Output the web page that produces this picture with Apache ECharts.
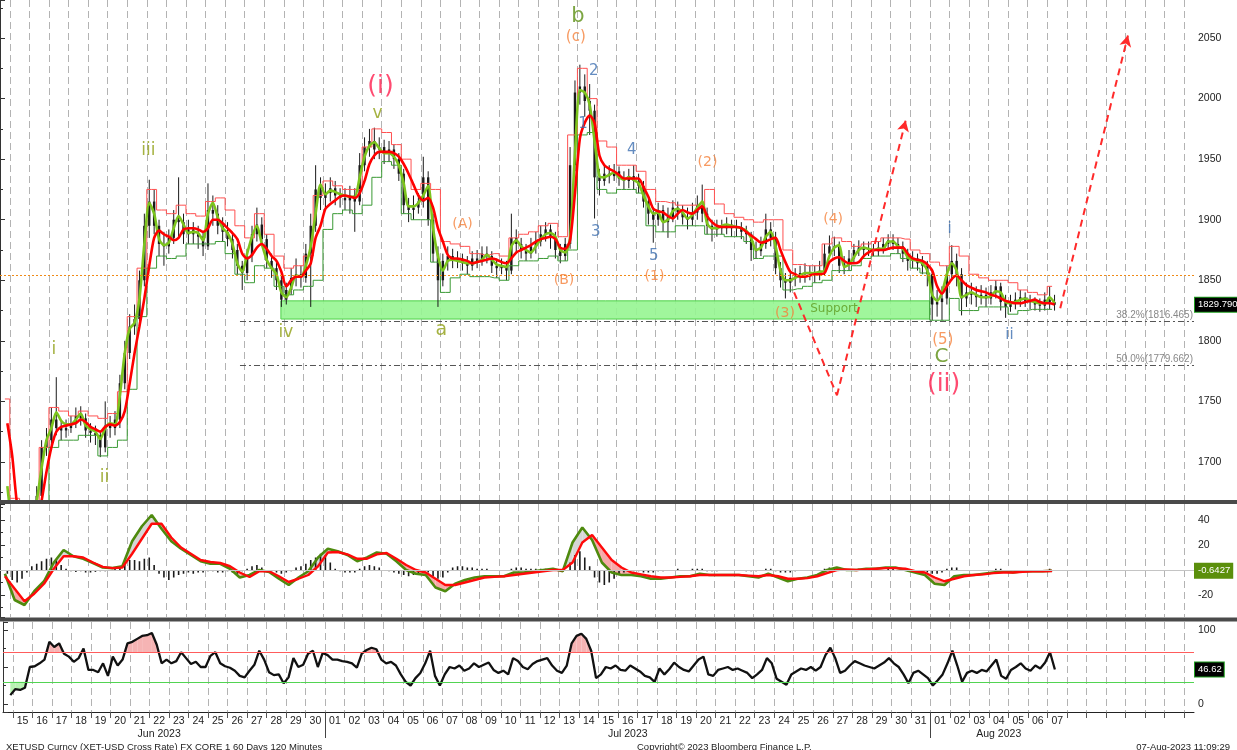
<!DOCTYPE html>
<html><head><meta charset="utf-8">
<script src="https://cdn.jsdelivr.net/npm/echarts@6/dist/echarts.min.js"></script>
<style>html,body{margin:0;padding:0;background:#fff}#c{width:1237px;height:750px}</style>
</head><body><div id="c"></div>
<script>
// ---------- time helpers (axis unit = hours since 14 Jun 2023 12:00 UTC) ----------
const T0 = Date.UTC(2023,5,14,12);
function hrs(s){ const [md,hm]=s.split(' '); const [m,d]=md.split('-').map(Number);
  const [h,mi]=(hm||'00:00').split(':').map(Number); return (Date.UTC(2023,m-1,d,h,mi)-T0)/3600000; }

// ---------- DATA ----------
// 6-hour candles [open, close, low, high] starting 15 Jun 00:00
const candleStart = '06-15 00:00';
const candles = [
[1650,1640,1630,1655],[1640,1635,1626,1648],[1635,1650,1630,1658],[1650,1660,1645,1668],
[1660,1655,1648,1668],[1655,1672,1650,1680],[1672,1712,1668,1718],[1712,1718,1705,1728],
[1718,1735,1714,1745],[1735,1728,1722,1770],[1728,1726,1718,1734],[1726,1728,1720,1735],
[1728,1732,1724,1738],[1732,1738,1728,1745],[1738,1736,1730,1746],[1736,1726,1720,1740],
[1726,1724,1716,1732],[1724,1722,1714,1730],[1722,1712,1704,1726],[1712,1730,1708,1750],
[1730,1728,1720,1738],[1728,1735,1722,1742],[1735,1765,1728,1772],[1765,1790,1760,1800],
[1790,1812,1785,1822],[1812,1818,1805,1830],[1818,1850,1812,1858],[1850,1895,1845,1905],
[1895,1915,1885,1933],[1915,1895,1888,1925],[1895,1880,1870,1900],[1880,1878,1862,1890],
[1878,1885,1872,1892],[1885,1900,1880,1908],[1900,1898,1885,1935],[1898,1888,1880,1905],
[1888,1892,1880,1900],[1892,1888,1880,1898],[1888,1886,1876,1895],[1886,1878,1870,1890],
[1878,1908,1875,1930],[1908,1905,1895,1920],[1905,1895,1888,1912],[1895,1890,1882,1902],
[1890,1884,1878,1898],[1884,1875,1868,1890],[1875,1862,1855,1880],[1862,1856,1842,1866],
[1856,1870,1850,1876],[1870,1888,1865,1895],[1888,1896,1882,1910],[1896,1884,1878,1902],
[1884,1866,1860,1888],[1866,1860,1852,1872],[1860,1850,1842,1866],[1850,1834,1828,1855],
[1834,1842,1830,1848],[1842,1852,1838,1860],[1852,1855,1845,1868],[1855,1852,1844,1862],
[1852,1872,1848,1880],[1872,1895,1828,1905],[1895,1925,1890,1945],[1925,1918,1908,1935],
[1918,1922,1910,1930],[1922,1926,1915,1935],[1926,1920,1912,1932],[1920,1918,1910,1926],
[1918,1916,1908,1926],[1916,1920,1905,1928],[1920,1915,1890,1926],[1915,1945,1912,1955],
[1945,1960,1940,1968],[1960,1965,1952,1975],[1965,1958,1950,1976],[1958,1960,1950,1968],
[1960,1955,1946,1966],[1955,1958,1948,1965],[1958,1950,1942,1962],[1950,1938,1932,1955],
[1938,1912,1905,1942],[1912,1908,1898,1918],[1908,1910,1900,1920],[1910,1915,1905,1922],
[1915,1935,1910,1952],[1935,1900,1895,1940],[1900,1872,1865,1905],[1872,1850,1828,1878],
[1850,1866,1845,1872],[1866,1870,1858,1878],[1870,1866,1860,1876],[1866,1868,1860,1874],
[1868,1864,1858,1872],[1864,1862,1855,1870],[1862,1868,1858,1874],[1868,1866,1860,1875],
[1866,1872,1862,1878],[1872,1870,1864,1878],[1870,1862,1856,1874],[1862,1860,1852,1868],
[1860,1862,1855,1868],[1862,1858,1850,1866],[1858,1885,1855,1905],[1885,1880,1872,1892],
[1880,1875,1868,1885],[1875,1872,1866,1880],[1872,1878,1868,1885],[1878,1882,1872,1890],
[1882,1888,1878,1895],[1888,1892,1882,1898],[1892,1885,1876,1896],[1885,1875,1868,1890],
[1875,1870,1864,1880],[1870,1880,1866,1885],[1880,1945,1876,1960],[1945,2005,1940,2015],
[2005,2010,1995,2028],[2010,1998,1985,2020],[1998,1990,1970,2012],[1990,1935,1901,1995],
[1935,1932,1920,1942],[1932,1938,1928,1945],[1938,1936,1930,1945],[1936,1940,1932,1946],
[1940,1934,1928,1944],[1934,1932,1925,1940],[1932,1936,1926,1942],[1936,1932,1925,1945],
[1932,1928,1922,1938],[1928,1915,1910,1932],[1915,1905,1896,1920],[1905,1900,1881,1910],
[1900,1908,1895,1914],[1908,1898,1890,1912],[1898,1902,1885,1910],[1902,1910,1898,1916],
[1910,1906,1900,1915],[1906,1902,1896,1912],[1902,1900,1892,1910],[1900,1906,1895,1914],
[1906,1912,1900,1920],[1912,1905,1898,1929],[1905,1895,1888,1910],[1895,1892,1882,1900],
[1892,1895,1886,1900],[1895,1893,1888,1900],[1893,1896,1888,1902],[1896,1893,1886,1900],
[1893,1894,1886,1900],[1894,1890,1884,1898],[1890,1888,1880,1895],[1888,1875,1866,1890],
[1875,1874,1868,1882],[1874,1880,1870,1886],[1880,1892,1876,1905],[1892,1885,1878,1898],
[1885,1860,1855,1890],[1860,1850,1844,1865],[1850,1848,1835,1856],[1848,1852,1840,1858],
[1852,1853,1845,1860],[1853,1856,1848,1862],[1856,1855,1848,1864],[1855,1856,1850,1862],
[1856,1855,1848,1862],[1855,1858,1850,1866],[1858,1872,1854,1880],[1872,1878,1868,1887],
[1878,1878,1870,1886],[1878,1862,1856,1882],[1862,1864,1855,1870],[1864,1868,1858,1875],
[1868,1875,1864,1880],[1875,1877,1870,1883],[1877,1875,1868,1882],[1875,1876,1870,1882],
[1876,1874,1870,1880],[1874,1877,1870,1882],[1877,1880,1872,1885],[1880,1883,1876,1888],
[1883,1880,1875,1888],[1880,1878,1872,1885],[1878,1872,1865,1882],[1872,1866,1858,1876],
[1866,1868,1860,1874],[1868,1864,1858,1872],[1864,1862,1855,1870],[1862,1855,1845,1866],
[1855,1830,1817,1858],[1830,1832,1820,1842],[1832,1835,1817,1845],[1835,1855,1830,1862],
[1855,1866,1850,1879],[1866,1855,1845,1872],[1855,1835,1821,1860],[1835,1840,1828,1848],
[1840,1838,1830,1848],[1838,1836,1828,1845],[1836,1838,1830,1846],[1838,1835,1828,1844],
[1835,1840,1830,1846],[1840,1845,1835,1850],[1845,1832,1825,1848],[1832,1828,1819,1838],
[1828,1832,1824,1838],[1832,1834,1826,1840],[1834,1836,1828,1842],[1836,1833,1828,1840],
[1833,1832,1826,1838],[1832,1830,1825,1836],[1830,1829,1824,1835],[1829,1834,1825,1840],
[1834,1832,1826,1845],[1832,1829.79,1825,1838]
];
// 6-hour line samples starting 14 Jun 18:00
const lineStart = '06-14 18:00';
const redMA = [1732,1705,1665,1650,1645,1645,1650,1668,1692,1712,1725,1729,1730,1731,1732,1735,1733,1729,1727,1725,
1729,1731,1730,1733,1742,1765,1790,1812,1835,1862,1885,1891,1888,1886,1883,1885,1892,1893,1893,1892,
1890,1893,1900,1900,1897,1893,1889,1884,1872,1868,1871,1877,1880,1876,1870,1866,1857,1845,1850,1853,
1853,1858,1864,1885,1895,1909,1913,1916,1919,1920,1919,1918,1922,1932,1946,1953,1956,1956,1956,1955,
1952,1946,1938,1929,1920,1916,1918,1910,1893,1882,1871,1868,1868,1867,1866,1864,1865,1866,1867,1868,
1867,1865,1864,1868,1873,1875,1877,1879,1882,1884,1885,1886,1884,1877,1876,1883,1922,1967,1980,1986,
1980,1953,1945,1942,1940,1937,1934,1934,1934,1934,1927,1919,1909,1907,1906,1903,1901,1905,1908,1906,
1905,1908,1911,1903,1898,1895,1894,1894,1894,1894,1893,1890,1887,1884,1881,1882,1884,1885,1875,1865,
1857,1855,1853,1853,1854,1855,1855,1856,1865,1868,1869,1866,1864,1864,1865,1870,1873,1875,1875,1875,
1876,1877,1877,1877,1872,1868,1867,1866,1863,1858,1845,1839,1845,1851,1854,1850,1846,1844,1842,1841,
1840,1838,1837,1835,1833,1832,1831,1831,1832,1833,1834,1832,1831,1831,1830];
const greenMA = [1680,1648,1638,1640,1650,1655,1668,1695,1718,1728,1741,1734,1731,1731,1735,1740,1730,1727,1725,1719,
1728,1732,1731,1755,1790,1810,1815,1835,1880,1914,1905,1884,1879,1881,1893,1903,1896,1889,1890,1889,
1883,1905,1914,1902,1893,1889,1880,1864,1857,1872,1886,1895,1880,1867,1860,1855,1840,1836,1844,1854,
1853,1862,1878,1905,1929,1921,1924,1923,1921,1920,1919,1919,1935,1952,1961,1964,1959,1955,1955,1952,
1945,1930,1911,1911,1914,1920,1928,1893,1870,1858,1866,1867,1866,1865,1864,1864,1865,1867,1871,1867,
1863,1862,1861,1878,1883,1878,1875,1873,1878,1884,1888,1889,1886,1875,1873,1885,1955,2007,2005,1995,
1965,1936,1935,1937,1939,1935,1933,1935,1933,1930,1920,1911,1905,1906,1898,1900,1907,1909,1906,1901,
1904,1910,1915,1897,1893,1893,1895,1896,1895,1894,1893,1891,1885,1875,1877,1886,1890,1878,1858,1850,
1850,1852,1854,1856,1856,1856,1857,1858,1870,1877,1879,1861,1863,1869,1875,1877,1876,1875,1876,1876,
1882,1882,1878,1876,1869,1867,1866,1864,1858,1838,1833,1840,1855,1864,1858,1836,1838,1840,1838,1836,
1836,1837,1841,1840,1832,1831,1832,1834,1835,1833,1832,1831,1831,1836,1831];
// 12-hour band samples starting 14 Jun 12:00
const bandStart = '06-14 12:00';
const upperBand = [1752,1670,1660,1665,1712,1745,1742,1738,1742,1738,1736,1740,1758,1820,1860,1925,1908,1905,1912,1905,
1903,1915,1918,1908,1895,1885,1905,1888,1870,1860,1862,1870,1920,1932,1928,1925,1925,1960,1975,1972,
1962,1950,1925,1930,1925,1882,1880,1878,1872,1871,1872,1870,1885,1888,1890,1895,1897,1886,1970,2025,
2000,1965,1960,1945,1945,1940,1925,1915,1914,1912,1912,1912,1925,1913,1905,1902,1900,1898,1900,1900,
1875,1863,1862,1862,1880,1885,1882,1878,1880,1882,1885,1885,1884,1875,1872,1865,1862,1878,1870,1855,
1852,1850,1850,1848,1842,1840,1838,1845];
const lowerBand = [1660,1640,1640,1640,1660,1712,1718,1718,1722,1722,1705,1712,1718,1760,1820,1860,1870,1868,1870,1880,
1880,1880,1882,1872,1855,1848,1862,1860,1845,1838,1842,1845,1850,1892,1905,1908,1905,1912,1935,1948,
1945,1905,1900,1900,1865,1840,1852,1855,1853,1853,1852,1850,1862,1866,1866,1868,1870,1866,1875,1970,
1972,1925,1922,1925,1925,1922,1895,1890,1890,1895,1895,1895,1888,1888,1886,1886,1882,1868,1870,1870,
1842,1843,1845,1848,1850,1858,1858,1862,1868,1870,1870,1872,1868,1860,1856,1817,1817,1835,1825,1825,
1828,1828,1828,1822,1825,1826,1826,1826];
// MACD (12-hour samples, same start as bands)
const macdLine = [-3,-24,-28,-17,-9,6,16,11,9,5.6, 2,1.5,3,23,35,44,33,23,17,12, 7,5,5,1,-6,-4,0,-1.6,-7,-12,
-6,-1,10,17,15,12,7,10,14,13, 7,0,-3,-4,-14,-17,-11,-8,-6,-5, -5,-5,-2,-2,-1,0,1,-1,22,34,
24,6,-2,-4,-4,-5,-7,-7,-6,-5, -5,-3,-4,-4,-4,-4,-5,-6,-3,-6, -9,-7,-6,-4,0,2,0,0,1,1,
2,2,0,-2,-4,-11,-12,-5,-4,-4, -3,-2,-1,-2,-1,-1,-1,-0.64];
const signalLine = [-5,-15,-25,-19,-11,1,11,11,10,6, 2.5,1.5,2,13,25,37,37,26,18,13, 8,6.4,5.6,3,-2,-5.6,-1,-1,-5,-9.6,
-7,-4,3,14,14.4,12.5,9,9,12.5,13.6, 9,4,0,-2,-7,-12,-12,-10,-8,-6, -5.5,-5,-4,-3,-2,-1,0,0,6,22,
28,18,8,2,-2,-3.5,-5,-6,-6,-5.5, -5,-4,-4,-4,-4,-4,-4.5,-5,-4,-5, -7,-7,-6.5,-5,-2.5,0,0.5,0,0.5,1,
1.5,1.5,1,-1,-2,-6,-9,-7,-5,-4, -3.5,-2.5,-2,-2,-1.5,-1,-1,-0.8];
// MACD histogram (6-hour samples, lineStart)
const macdHist = [-3, -8,-10,-7,-2, 3,5,7,9,10,8,4,1, -1,-1.5,-1,-2,-2,-1.5,-1,-1,0, 1,3,6,8,8,7,9,10,4,
-3,-6,-8,-6,-4, -3,-2,-3,-2,-2,-1,-1,-2,-2,-1,-2,-3, -1,1,3,4,2,0, -1,-2,-3,-2,-1, 2,3,5,8,10,13,12,6,
1,-1,-2,-2,-2, 1,3,4,3,2,0, -1,-2,-3, -4,-5,-4,-3,-2,-2,-5,-7,-6,-2, 2,3,3,2,2,1,1,1,0,0,
0,0,1,2,2,1,1,1,1,1,1,0,-1,0, 6,12,15,10,3,-6,-10,-12,-10,-7,-4,-2,-1,-1,
-1,-2,-2,-2,-1,-1,0,0,1,0,0,1, 1,1,-1,-1,-1,0,0,0,0,0,-1,-1, -1,0,1,1,-1,-2,-2,-2,-1,0,0,0,
0,0,1,2,2,1,0,0,0,1,1,1, 1,0,0,1,1,0,0,-1,-1,-1,-1,-2, -3,-3,-2,1,2,2,0,0,0,0,0,0,
0,1,1,0,0,0,0,0,0,0,0,0,1,0];
// RSI (6-hour samples, lineStart)
const rsi = [12, 20,19,22,50,51,55,60,84,77,82, 68,64,57,62,75,46,46,43,55,38, 64,52,60,82,84,88,92,93,96,80,
55,60,55,58,70,62,54,57,50,50, 65,70,55,51,49,45,38,36,45,53, 72,60,43,39,40,28,36,62,50,53,
68,72,50,69,66,60,60,58,57,55, 49,68,73,76,74,60,55,57,52,40, 30,25,35,42,55,72,38,25,40,50,
48,52,45,48,55,50,53,56,46,42, 45,40,62,58,50,47,54,58,60,62, 52,45,42,52,82,92,95,88,72,35,
40,50,48,52,46,45,52,48,44,38, 36,30,48,40,47,56,50,46,44,52, 60,64,40,38,46,48,50,46,48,45,
42,35,40,46,62,55,34,30,26,40, 44,48,46,50,45,50,66,76,62,42, 45,52,58,55,52,50,48,52,56,62,
55,50,40,28,42,45,40,35,25,32, 40,55,72,52,30,42,45,42,46,44, 52,60,38,34,46,50,55,48,45,52,
48,56,70,46.62];
// Levels
const lastPrice = 1829.79, lastMacd = -0.6427, lastRsi = 46.62;
const orangeLevel = 1854.5;
const fibLevels = [[1816.465,'38.2%(1816.465)'],[1779.662,'50.0%(1779.662)']];
const fibStart = '06-26 18:15';
const supportZone = {from:'06-28 20:25', to:'08-01 00:00', low:1818, high:1833};
// Elliott wave annotations [time, price, text, colour, fontSize]
const OLV='#8f9f12', GRN='#5b8e12', ORG='#f5813a', BLU='#3d6fb0', RED='#ff1e4e';
const notes = [
 ['07-03 22:30',2010,'(i)',RED,25], ['07-03 19:00',1988,'v',OLV,17], ['06-22 02:00',1957,'iii',OLV,17],
 ['06-17 06:00',1793,'i',OLV,17], ['06-19 20:00',1687,'ii',OLV,17], ['06-29 02:30',1806.5,'iv',OLV,17],
 ['07-07 01:00',1809,'a',OLV,19], ['07-08 03:00',1896.5,'(A)',ORG,14], ['07-13 07:30',1849.6,'(B)',ORG,14],
 ['07-14 00:30',2068,'b',GRN,21], ['07-13 22:00',2051,'(c)',ORG,15], ['07-14 20:00',2023,'2',BLU,15],
 ['07-14 06:45',1979,'1',BLU,15], ['07-16 18:30',1957.5,'4',BLU,15], ['07-14 22:30',1890,'3',BLU,15],
 ['07-17 21:30',1870,'5',BLU,15], ['07-17 22:30',1853.5,'(1)',ORG,14], ['07-20 15:30',1947.5,'(2)',ORG,14],
 ['07-27 01:30',1900,'(4)',ORG,14], ['07-24 14:30',1823,'(3)',ORG,14], ['07-27 02:30',1826,'Support','#5e9a1e',12],
 ['08-02 00:15',1892,'i',BLU,15], ['08-01 16:00',1800.7,'(5)',ORG,15], ['08-01 14:30',1786.7,'C',GRN,20],
 ['08-01 17:00',1763.6,'(ii)',RED,25], ['08-05 01:40',1805,'ii',BLU,15]
];
// Projection paths [time, price]
const projections = [
 [['07-25 01:40',1840],['07-27 06:15',1755],['07-30 18:30',1982]],
 [['08-07 16:00',1827],['08-11 03:00',2052]]
];
const monthLabels = {'06-22':'Jun 2023','07-16':'Jul 2023','08-04':'Aug 2023'};
const monthStarts = ['07-01 00:00','08-01 00:00'];
const lastLabelDay = '08-07 12:00';

// ---------- build ----------
const sixh = arr => arr.map((v,k)=>[hrs(lineStart)+k*6+3, v]);
const twelveh = arr => arr.map((v,k)=>[hrs(bandStart)+k*12+6, v]);
const candleData = candles.map((c,i)=>[hrs(candleStart)+i*6+3, c[0], c[1], c[2], c[3]]);
const macdPts = twelveh(macdLine), sigPts = twelveh(signalLine);
const rsiPts = sixh(rsi);
const macdPairs = []; for(let k=0;k<macdPts.length-1;k++) macdPairs.push([macdPts[k][0],macdLine[k],signalLine[k],macdPts[k+1][0],macdLine[k+1],signalLine[k+1]]);
const rsiPairs = []; for(let k=0;k<rsiPts.length-1;k++) rsiPairs.push([rsiPts[k][0],rsi[k],rsiPts[k+1][0],rsi[k+1]]);

const FONT = 'Liberation Sans';
const XMIN=0, XMAX=1464;
function dayFmt(v){
  const d = new Date(T0 + v*3600000);
  if (v < 24 || d.getTime() > T0 + hrs(lastLabelDay)*3600000) return '';
  const mm = String(d.getUTCMonth()+1).padStart(2,'0'), dd = String(d.getUTCDate()).padStart(2,'0');
  const m = monthLabels[mm+'-'+dd];
  return m ? '{d|'+dd+'}\n{m|'+m+'}' : '{d|'+dd+'}';
}
function xAx(g){
  return {type:'value', gridIndex:g, min:XMIN, max:XMAX, interval:24,
    axisLine:{show:g===2, onZero:false, lineStyle:{color:'#222',width:1}},
    axisTick:{show:false},
    minorTick:{show:g===2, splitNumber:2, length:6, lineStyle:{color:'#555'}},
    splitLine:{show:false},
    minorSplitLine:{show:true, lineStyle:{color:'#b3b3b3', type:[7,4], width:1}},
    axisLabel:{show:g===2, margin:3, formatter:dayFmt,
      rich:{d:{fontFamily:FONT,fontSize:10.5,color:'#222',lineHeight:13}, m:{fontFamily:FONT,fontSize:10.5,color:'#222',lineHeight:13}}}
  };
}
function yAx(g, min, max, step, fmt){
  return {type:'value', gridIndex:g, position:'right', min, max, minInterval:step, maxInterval:step,
    splitLine:{show:false},
    axisLine:{show:true, lineStyle:{color:'#333',width:1}},
    axisTick:{show:true, length:5, lineStyle:{color:'#333'}},
    minorTick:{show:true, splitNumber:2, length:3, lineStyle:{color:'#333'}},
    axisLabel:{fontFamily:FONT, fontSize:10.5, color:'#222', margin:4, showMinLabel:false, showMaxLabel:false, formatter:fmt}
  };
}
function tag(v, text, bg){
  return {symbol:'none', silent:true, animation:false, lineStyle:{color:'rgba(0,0,0,0)', width:0.01},
    data:[{yAxis:v}],
    label:{show:true, position:'end', distance:1, formatter:text, backgroundColor:bg, color:'#fff', opacity:1,
      fontFamily:FONT, fontSize:9.5, padding:[2,2,2,3], borderColor: bg==='#000'?'#1f9d1f':bg, borderWidth:1}};
}
function clipPart(x1,v1,x2,v2,th,above){
  const f1 = above? v1>th : v1<th, f2 = above? v2>th : v2<th;
  if(!f1 && !f2) return null;
  if(f1 && f2) return [[x1,th],[x1,v1],[x2,v2],[x2,th]];
  const t=(th-v1)/(v2-v1), xm=x1+t*(x2-x1);
  return f1 ? [[x1,th],[x1,v1],[xm,th]] : [[xm,th],[x2,v2],[x2,th]];
}

const projLines = [];
projections.forEach(path=>{
  for(let k=0;k<path.length-1;k++){
    const last = k===path.length-2;
    projLines.push([{coord:[hrs(path[k][0]),path[k][1]], symbol:'none'},
                    {coord:[hrs(path[k+1][0]),path[k+1][1]], symbol:last?'arrow':'none', symbolSize:[9,11]}]);
  }
});

const option = {
  animation:false,
  backgroundColor:'#fff',
  title:[
    {text:'XETUSD Curncy (XET-USD Cross Rate) FX CORE 1 60 Days 120 Minutes', left:1, top:737, textStyle:{fontFamily:FONT,fontSize:9.5,fontWeight:'normal',color:'#222'}},
    {text:'Copyright\u00a9 2023 Bloomberg Finance L.P.', left:632, top:737, textStyle:{fontFamily:FONT,fontSize:9.5,fontWeight:'normal',color:'#222'}},
    {text:'07-Aug-2023 11:09:29', right:2, top:737, textStyle:{fontFamily:FONT,fontSize:9.5,fontWeight:'normal',color:'#222'}}
  ],
  grid:[
    {left:-3.82, right:43, top:0, height:500},
    {left:-3.82, right:43, top:504, height:113},
    {left:-3.82, right:43, top:622, height:90}
  ],
  xAxis:[xAx(0), xAx(1), xAx(2)],
  yAxis:[
    yAx(0, 1668.6, 2081.4, 50, v=>String(v)),
    yAx(1, -37.6, 52.8, 20, v=> v===0?'':String(v)),
    yAx(2, -10.8, 110.8, 50, v=> v===50?'':String(v))
  ],
  series:[
    {type:'custom', name:'price', xAxisIndex:0, yAxisIndex:0, data:candleData, encode:{x:0, y:[1,2,3,4]}, clip:true, silent:true,
     renderItem:(params, api)=>{
       const x=api.value(0), o=api.value(1), c=api.value(2), l=api.value(3), h=api.value(4);
       const pt=api.coord([x, Math.max(o,c)]), pb=api.coord([x, Math.min(o,c)]), pl=api.coord([x,l]), ph=api.coord([x,h]);
       return {type:'group', children:[
         {type:'line', shape:{x1:pl[0], y1:pl[1], x2:ph[0], y2:ph[1]}, style:{stroke:'#1a1a1a', lineWidth:1}},
         {type:'rect', shape:{x:pt[0]-1.2, y:pt[1], width:2.4, height:Math.max(1, pb[1]-pt[1])}, style:{fill:'#1a1a1a'}}
       ]};
     },
     markArea:{silent:true, itemStyle:{color:'rgba(150,245,145,0.9)', borderColor:'#4fd24a', borderWidth:1},
       data:[[{coord:[hrs(supportZone.from), supportZone.high]},{coord:[hrs(supportZone.to), supportZone.low]}]]},
     markLine:{silent:true, symbol:'none', animation:false,
       data:[
        {yAxis:orangeLevel, lineStyle:{color:'#f08a16', type:[2,2], width:1.2}, label:{show:false}},
        ...fibLevels.map(f=>[{coord:[hrs(fibStart), f[0]]},{coord:[XMAX, f[0]],
           lineStyle:{color:'#555', type:[6,3,2,3], width:1.2},
           label:{show:true, position:'insideEndTop', formatter:f[1], color:'#888', fontFamily:FONT, fontSize:10, distance:1}}])
       ]}
    },
    {type:'line', name:'upper', xAxisIndex:0, yAxisIndex:0, data:twelveh(upperBand), step:'middle', symbol:'none',
     lineStyle:{color:'#ff5050', width:1}},
    {type:'line', name:'lower', xAxisIndex:0, yAxisIndex:0, data:twelveh(lowerBand), step:'middle', symbol:'none',
     lineStyle:{color:'#3a9a34', width:1},
     markLine:{silent:true, animation:false, lineStyle:{color:'#ff2a2a', type:[7,5], width:2}, label:{show:false}, data:projLines}},
    {type:'line', name:'fast', xAxisIndex:0, yAxisIndex:0, data:sixh(greenMA), symbol:'none', smooth:0.25,
     lineStyle:{color:'#7cc41d', width:2.6}},
    {type:'line', name:'slow', xAxisIndex:0, yAxisIndex:0, data:sixh(redMA), symbol:'none', smooth:0.25,
     lineStyle:{color:'#ff0000', width:2.6}},
    {type:'line', name:'priceTag', xAxisIndex:0, yAxisIndex:0, data:[], markLine: tag(lastPrice, '1829.790', '#000')},
    {type:'scatter', name:'notes', xAxisIndex:0, yAxisIndex:0, symbolSize:0, silent:true, z:10,
     data: notes.map(n=>({value:[hrs(n[0]), n[1]],
       label:{show:true, position:'inside', formatter:n[2], color:n[3], fontSize:n[4], fontFamily:'DejaVu Sans'}}))},
    // MACD panel
    {type:'bar', name:'hist', xAxisIndex:1, yAxisIndex:1, data:sixh(macdHist), barWidth:1.6,
     itemStyle:{color:'#1a1a1a'},
     markLine:{silent:true, symbol:'none', animation:false, data:[{yAxis:0}], lineStyle:{color:'#c4c4c4', type:'solid', width:1}, label:{show:false}}},
    {type:'custom', name:'macdFill', xAxisIndex:1, yAxisIndex:1, data:macdPairs, encode:{x:[0,3], y:[1,2,4,5]}, clip:true, silent:true,
     renderItem:(params, api)=>{
       const x1=api.value(0), g1=api.value(1), r1=api.value(2), x2=api.value(3), g2=api.value(4), r2=api.value(5);
       const d1=g1-r1, d2=g2-r2, ch=[];
       const poly=(pts,col)=>ch.push({type:'polygon', shape:{points:pts.map(p=>api.coord(p))}, style:{fill:col}});
       const colOf=d=> d>=0 ? '#d6d6d6' : '#f6a9a9';
       if (d1*d2 >= 0) poly([[x1,g1],[x2,g2],[x2,r2],[x1,r1]], colOf(d1+d2));
       else { const t=d1/(d1-d2), xm=x1+t*(x2-x1), vm=g1+t*(g2-g1);
         poly([[x1,g1],[xm,vm],[x1,r1]], colOf(d1)); poly([[xm,vm],[x2,g2],[x2,r2]], colOf(d2)); }
       return {type:'group', children:ch};
     }},
    {type:'line', name:'macd', xAxisIndex:1, yAxisIndex:1, data:macdPts, symbol:'none', lineStyle:{color:'#4e8a0e', width:2.6}},
    {type:'line', name:'signal', xAxisIndex:1, yAxisIndex:1, data:sigPts, symbol:'none', lineStyle:{color:'#ff0a0a', width:2.4}},
    {type:'line', name:'macdTag', xAxisIndex:1, yAxisIndex:1, data:[], markLine: tag(lastMacd, '-0.6427', '#5b8f0c')},
    // RSI panel
    {type:'custom', name:'rsiFill', xAxisIndex:2, yAxisIndex:2, data:rsiPairs, encode:{x:[0,2], y:[1,3]}, clip:true, silent:true,
     renderItem:(params, api)=>{
       const x1=api.value(0), v1=api.value(1), x2=api.value(2), v2=api.value(3), ch=[];
       [[70,true,'#f6b4b4'],[30,false,'#b8f2b2']].forEach(([th,ab,col])=>{
         const p=clipPart(x1,v1,x2,v2,th,ab);
         if(p) ch.push({type:'polygon', shape:{points:p.map(q=>api.coord(q))}, style:{fill:col}});
       });
       return {type:'group', children:ch};
     }},
    {type:'line', name:'rsi', xAxisIndex:2, yAxisIndex:2, data:rsiPts, symbol:'none', lineStyle:{color:'#111', width:2.3},
     markLine:{silent:true, symbol:'none', animation:false, label:{show:false},
       data:[{yAxis:70, lineStyle:{color:'#ff5c5c', width:1, type:'solid'}},{yAxis:30, lineStyle:{color:'#52d452', width:1, type:'solid'}}]}},
    {type:'line', name:'rsiTag', xAxisIndex:2, yAxisIndex:2, data:[], markLine: tag(lastRsi, '46.62', '#000')}
  ]
};
const chart = echarts.init(document.getElementById('c'), null, {width:1237, height:750});
chart.setOption(option);
// decorative separators and month dividers in the label strip
const gfx = [
  {type:'rect', shape:{x:0, y:500, width:1237, height:4}, style:{fill:'#4a4a4a'}, z:100},
  {type:'rect', shape:{x:0, y:617.5, width:1237, height:4}, style:{fill:'#4a4a4a'}, z:100}
];
monthStarts.forEach(s=>{
  const px = Math.round(chart.convertToPixel({xAxisIndex:2}, hrs(s))) + 0.5;
  gfx.push({type:'line', shape:{x1:px, y1:712, x2:px, y2:738}, style:{stroke:'#444', lineWidth:1}, z:100});
});
chart.setOption({graphic:gfx});
</script></body></html>
